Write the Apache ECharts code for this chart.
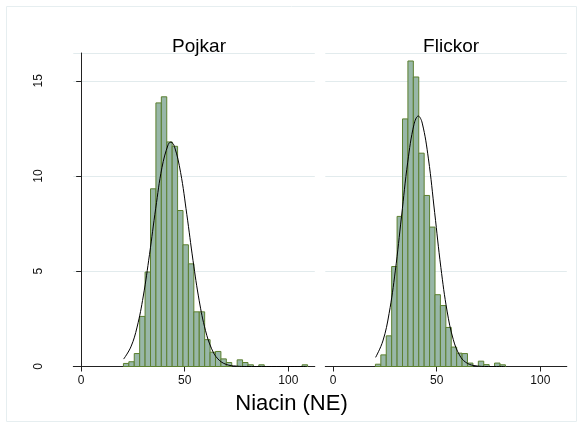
<!DOCTYPE html>
<html>
<head>
<meta charset="utf-8">
<script src="https://cdn.jsdelivr.net/npm/echarts@6/dist/echarts.min.js"></script>
<style>html,body{margin:0;padding:0;background:#fff}#c{width:583px;height:428px}</style>
</head>
<body>
<div id="c"></div>
<script>
// ---- data ----
const panelTitles = ['Pojkar', 'Flickor'];
const xTitle = 'Niacin (NE)';
const xTicks = [0, 50, 100];
const yTicks = [0, 5, 10, 15];
const binStart = 20.4;
const binWidth = 2.615;
// percent per bin (index = bin number from binStart)
const pojkarPct = [0.16, 0.25, 0.68, 2.63, 4.96, 9.33, 13.84, 14.16, 11.79, 11.56, 8.19, 6.39, 5.39, 2.87, 2.87, 1.41, 0.75, 0.79, 0.40, 0.21, 0, 0.35, 0.21, 0.09, 0, 0.09, 0, 0, 0, 0, 0, 0, 0, 0.09];
const flickorPct = [0.12, 0.61, 1.61, 5.25, 7.88, 13.0, 16.04, 15.2, 11.2, 8.98, 7.32, 3.77, 3.2, 2.05, 1.02, 0.70, 0.68, 0.18, 0, 0.28, 0.10, 0, 0.18, 0.09];
// overlaid normal-density curves [x, percent]
const pojkarCurve = [[20.5,0.39],[24,1.03],[27,2.07],[30,3.70],[33,5.89],[36,8.31],[39,10.44],[42,11.65],[43.3,11.78],[45,11.56],[48,10.19],[51,7.99],[54,5.57],[57,3.45],[60,1.90],[63,0.93],[66,0.40],[70,0.11],[75,0.02],[80,0],[109,0]];
const flickorCurve = [[20.5,0.48],[24,1.34],[27,2.78],[30,5.02],[33,7.88],[36,10.73],[39,12.70],[41.1,13.15],[43,12.78],[46,10.90],[49,8.08],[52,5.20],[55,2.91],[58,1.41],[61,0.60],[64,0.22],[68,0.05],[75,0],[83,0]];

// ---- chart ----
const FONT = '"Liberation Sans", Arial, Helvetica, sans-serif';
const X_MIN = -3.8, X_MAX = 112.8, Y_MAX = 16.46;
const GRID_TOP = 53, GRID_H = 313.5, GRID_W = 241.5;
const grids = [
  {left: 73.3, top: GRID_TOP, width: GRID_W, height: GRID_H},
  {left: 325.3, top: GRID_TOP, width: GRID_W, height: GRID_H}
];

function barData(arr) {
  const out = [];
  arr.forEach((v, i) => { if (v > 0) out.push([binStart + i * binWidth, v]); });
  return out;
}

function renderBar(params, api) {
  const x0 = api.value(0), h = api.value(1);
  const p1 = api.coord([x0, h]);
  const p2 = api.coord([x0 + binWidth, 0]);
  return {
    type: 'rect',
    shape: {x: p1[0], y: p1[1], width: p2[0] - p1[0], height: p2[1] - p1[1]},
    style: {fill: '#98b7a8', stroke: '#5b7f2f', lineWidth: 1}
  };
}

function xAxis(i) {
  return {
    type: 'value', gridIndex: i, min: X_MIN, max: X_MAX,
    axisLine: {show: true, onZero: false, lineStyle: {color: '#222', width: 1}},
    axisTick: {show: true, length: 5, customValues: xTicks, lineStyle: {color: '#222'}},
    axisLabel: {customValues: xTicks, margin: 8, color: '#111', fontSize: 12, fontFamily: FONT},
    splitLine: {show: false}
  };
}
function yAxis(i) {
  const left = i === 0;
  return {
    type: 'value', gridIndex: i, min: 0, max: Y_MAX, interval: 5,
    axisLine: {show: left, lineStyle: {color: '#222', width: 1}},
    axisTick: {show: left, length: 5, lineStyle: {color: '#222'}},
    axisLabel: {show: left, rotate: 90, margin: 29, color: '#111', fontSize: 12, fontFamily: FONT,
      showMaxLabel: false},
    splitLine: {show: true, lineStyle: {color: '#e2ebed', width: 1}}
  };
}

const chart = echarts.init(document.getElementById('c'), null, {renderer: 'canvas'});
chart.setOption({
  backgroundColor: '#fff',
  animation: false,
  title: [
    {text: panelTitles[0], left: grids[0].left + GRID_W / 2, top: 32, textAlign: 'center',
      textStyle: {fontSize: 19, fontWeight: 'normal', color: '#000', fontFamily: FONT}},
    {text: panelTitles[1], left: grids[1].left + GRID_W / 2, top: 32, textAlign: 'center',
      textStyle: {fontSize: 19, fontWeight: 'normal', color: '#000', fontFamily: FONT}}
  ],
  graphic: [
    {type: 'rect', shape: {x: 6.5, y: 6.5, width: 570, height: 415}, style: {fill: null, stroke: '#e6eef0', lineWidth: 1}, silent: true, z: -1},
    {type: 'text', x: 291.5, y: 404, style: {text: xTitle, font: '22px ' + FONT, fill: '#000', textAlign: 'center', textVerticalAlign: 'middle'}}
  ],
  grid: grids,
  xAxis: [xAxis(0), xAxis(1)],
  yAxis: [yAxis(0), yAxis(1)],
  series: [
    {type: 'custom', xAxisIndex: 0, yAxisIndex: 0, renderItem: renderBar, data: barData(pojkarPct), z: 2},
    {type: 'custom', xAxisIndex: 1, yAxisIndex: 1, renderItem: renderBar, data: barData(flickorPct), z: 2},
    {type: 'line', xAxisIndex: 0, yAxisIndex: 0, data: pojkarCurve, smooth: 0.4, showSymbol: false, symbol: 'none',
      lineStyle: {color: '#000', width: 1}, z: 3},
    {type: 'line', xAxisIndex: 1, yAxisIndex: 1, data: flickorCurve, smooth: 0.4, showSymbol: false, symbol: 'none',
      lineStyle: {color: '#000', width: 1}, z: 3}
  ]
});
</script>
</body>
</html>
